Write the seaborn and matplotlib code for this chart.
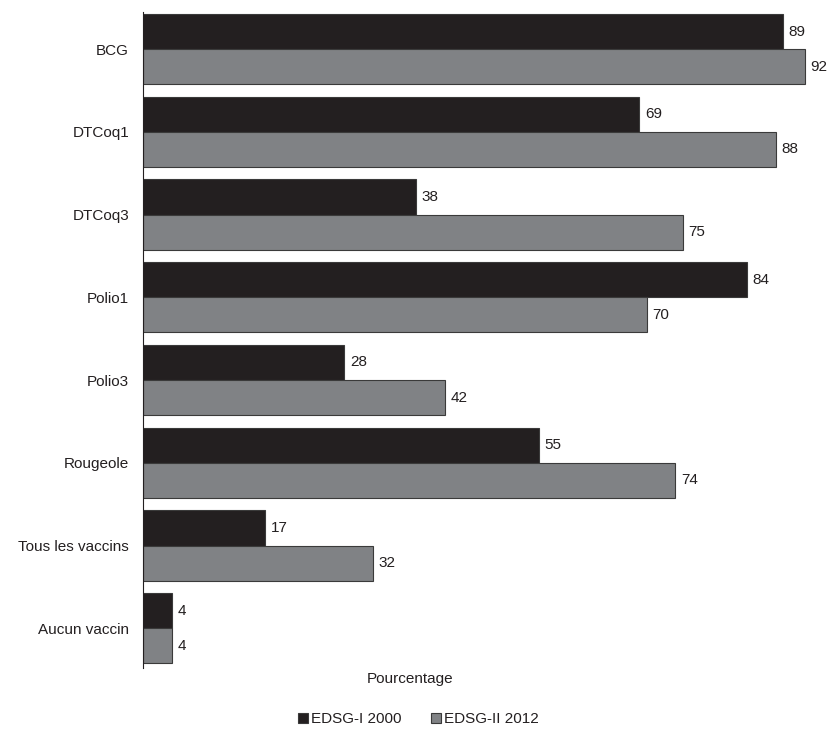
import matplotlib
matplotlib.use("Agg")
import matplotlib.pyplot as plt
import seaborn as sns
import pandas as pd

categories = ["BCG", "DTCoq1", "DTCoq3", "Polio1", "Polio3", "Rougeole",
              "Tous les vaccins", "Aucun vaccin"]
edsg1_2000 = [89, 69, 38, 84, 28, 55, 17, 4]
edsg2_2012 = [92, 88, 75, 70, 42, 74, 32, 4]
series = ["EDSG-I 2000", "EDSG-II 2012"]

df = pd.DataFrame({
    "cat": categories * 2,
    "val": edsg1_2000 + edsg2_2012,
    "serie": [series[0]] * len(categories) + [series[1]] * len(categories),
})

sns.set_theme(style="white")
plt.rcParams["font.family"] = ["Liberation Sans", "DejaVu Sans"]

fig = plt.figure(figsize=(8.3, 7.29), dpi=100)
ax = fig.add_axes([0.1723, 0.0837, 0.826, 0.9])

palette = {series[0]: "#231f20", series[1]: "#808285"}
sns.barplot(data=df, y="cat", x="val", hue="serie", orient="h",
            palette=palette, width=0.85, ax=ax, errorbar=None,
            edgecolor="#3a3a3a", linewidth=0.8, saturation=1)

for cont in ax.containers:
    ax.bar_label(cont, padding=4, fontsize=11, color="#231f20")

ax.set_xlim(0, 95.3)
ax.set_ylim(7.48, -0.45)
ax.set_xticks([])
ax.set_ylabel("")
ax.set_xlabel("Pourcentage", fontsize=11, color="#231f20")
ax.xaxis.set_label_coords((410 - 143) / (0.826 * 830), -0.006, transform=ax.transAxes)
ax.xaxis.label.set_va("top")
ax.tick_params(axis="y", length=0, labelsize=11, labelcolor="#231f20", pad=10)
for s in ["top", "right", "bottom"]:
    ax.spines[s].set_visible(False)
ax.spines["left"].set_color("#231f20")
ax.spines["left"].set_linewidth(0.8)

leg = ax.legend(loc="center", bbox_to_anchor=(0.504, 0.0135),
                bbox_transform=fig.transFigure, ncol=2, frameon=False,
                fontsize=11, handlelength=0.65, handleheight=0.65,
                handletextpad=0.2, columnspacing=1.9, borderpad=0)
for t in leg.get_texts():
    t.set_color("#231f20")

fig.savefig("out.png", dpi=100)
